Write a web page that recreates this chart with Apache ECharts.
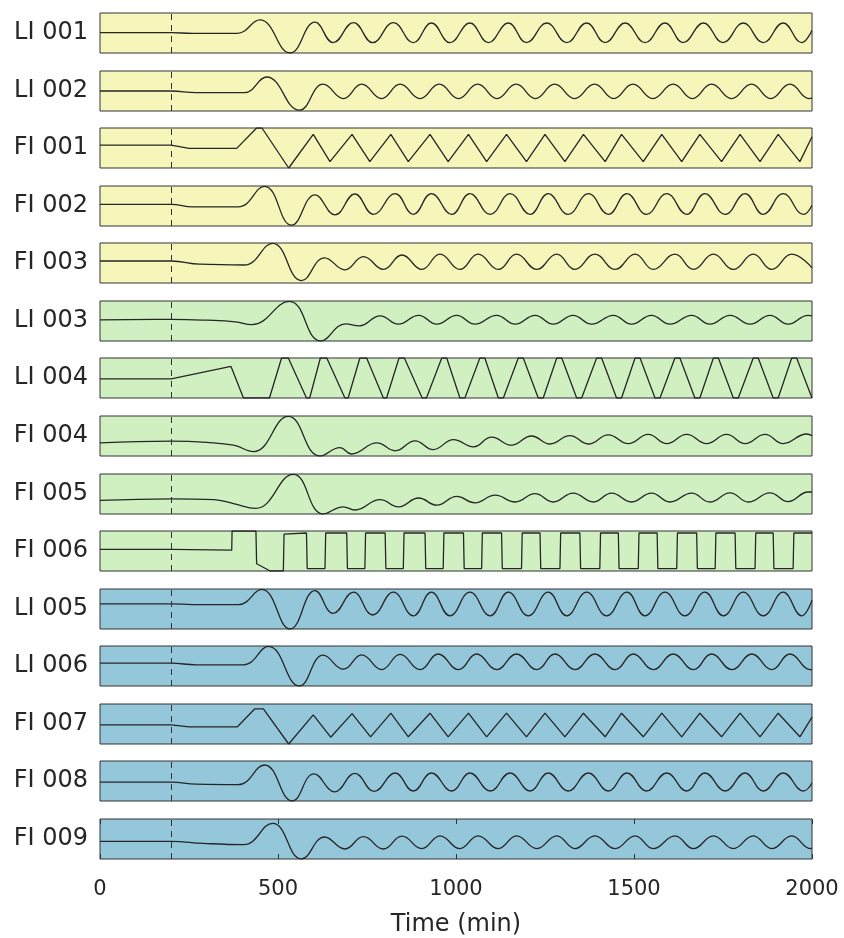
<!DOCTYPE html>
<html>
<head>
<meta charset="utf-8">
<script src="https://cdn.jsdelivr.net/npm/echarts@6/dist/echarts.min.js"></script>
<style>
html,body{margin:0;padding:0;background:#fff;}
#chart{width:844px;height:938px;}
</style>
</head>
<body>
<div id="chart"></div>
<script>
// ---- data ----
const labels = ['LI 001','LI 002','FI 001','FI 002','FI 003','LI 003','LI 004','FI 004','FI 005','FI 006','LI 005','LI 006','FI 007','FI 008','FI 009'];
const xTicks = [0, 500, 1000, 1500, 2000];
const eventTime = 200;

const li001 = [[0,0.51],[200,0.51],[260,0.49],[385,0.49],[449,0.83],[534,0.0],[604,0.77],[655,0.26],[712,0.76],[766,0.26],[824,0.76],[880,0.26],[931,0.75],[983,0.26],[1039,0.75],[1091,0.26],[1147,0.75],[1198,0.26],[1255,0.75],[1311,0.26],[1367,0.75],[1419,0.26],[1475,0.75],[1531,0.26],[1587,0.75],[1638,0.26],[1695,0.75],[1750,0.26],[1807,0.75],[1863,0.26],[1919,0.75],[1971,0.26],[2000,0.57]];
const li002 = [[0,0.5],[200,0.5],[270,0.46],[405,0.46],[468,0.85],[560,0.02],[627,0.67],[684,0.31],[735,0.67],[791,0.31],[843,0.67],[899,0.31],[953,0.67],[1007,0.31],[1061,0.67],[1115,0.31],[1169,0.67],[1223,0.31],[1277,0.67],[1333,0.31],[1389,0.67],[1443,0.31],[1497,0.67],[1553,0.31],[1610,0.67],[1664,0.31],[1718,0.67],[1774,0.31],[1830,0.67],[1884,0.31],[1938,0.67],[1992,0.31],[2000,0.32]];
const fi001 = [[0,0.57],[200,0.57],[250,0.49],[384,0.49],[440,1.0],[455,1.0],[530,0.0],[599,0.84],[646,0.16],[708,0.84],[758,0.16],[817,0.84],[866,0.16],[927,0.84],[978,0.16],[1035,0.84],[1086,0.16],[1142,0.84],[1198,0.16],[1250,0.84],[1306,0.16],[1358,0.84],[1419,0.16],[1465,0.84],[1526,0.16],[1578,0.84],[1634,0.16],[1685,0.84],[1746,0.16],[1798,0.84],[1854,0.16],[1905,0.84],[1966,0.16],[2000,0.78]];
const fi002 = [[0,0.54],[200,0.54],[260,0.48],[388,0.48],[462,0.99],[538,0.02],[604,0.78],[660,0.28],[716,0.8],[768,0.29],[829,0.81],[880,0.29],[931,0.81],[988,0.29],[1039,0.81],[1096,0.29],[1152,0.81],[1208,0.29],[1259,0.81],[1315,0.29],[1372,0.81],[1428,0.29],[1480,0.81],[1535,0.29],[1592,0.81],[1648,0.29],[1699,0.81],[1756,0.29],[1812,0.81],[1863,0.29],[1919,0.81],[1976,0.29],[2000,0.52]];
const fi003 = [[0,0.55],[200,0.55],[280,0.47],[405,0.45],[485,0.99],[566,0.06],[631,0.63],[688,0.33],[740,0.66],[796,0.34],[848,0.7],[904,0.34],[955,0.72],[1011,0.34],[1062,0.72],[1119,0.34],[1170,0.72],[1227,0.34],[1283,0.72],[1334,0.34],[1390,0.72],[1447,0.34],[1503,0.72],[1554,0.34],[1615,0.72],[1667,0.34],[1723,0.72],[1779,0.34],[1835,0.72],[1887,0.34],[1943,0.72],[2000,0.38]];
const li003 = [[0,0.53],[200,0.54],[300,0.52],[380,0.48],[426,0.41],[532,0.99],[620,0.0],[690,0.43],[728,0.38],[787,0.63],[838,0.42],[895,0.64],[946,0.42],[1002,0.64],[1053,0.42],[1114,0.64],[1166,0.42],[1222,0.64],[1273,0.42],[1329,0.64],[1381,0.42],[1442,0.64],[1493,0.42],[1549,0.64],[1601,0.42],[1662,0.64],[1713,0.42],[1770,0.64],[1826,0.42],[1882,0.64],[1933,0.42],[1989,0.64],[2000,0.63]];
const li004 = [[0,0.48],[200,0.48],[368,0.79],[403,0],[476,0],[510,1],[529,1],[580,0],[589,0],[619,1],[637,1],[688,0],[697,0],[730,1],[749,1],[796,0],[805,0],[840,1],[855,1],[905,0],[917,0],[960,1],[974,1],[1011,0],[1025,0],[1067,1],[1081,1],[1119,0],[1133,0],[1175,1],[1189,1],[1231,0],[1245,0],[1283,1],[1297,1],[1339,0],[1353,0],[1395,1],[1409,1],[1451,0],[1465,0],[1503,1],[1517,1],[1559,0],[1573,0],[1615,1],[1629,1],[1671,0],[1685,0],[1723,1],[1737,1],[1779,0],[1793,0],[1835,1],[1849,1],[1891,0],[1905,0],[1943,1],[1957,1],[2000,0]];
const fi004 = [[0,0.33],[200,0.37],[300,0.34],[375,0.27],[431,0.11],[529,0.99],[618,0.0],[674,0.21],[706,0.05],[778,0.33],[829,0.13],[885,0.38],[936,0.16],[993,0.41],[1049,0.23],[1100,0.47],[1156,0.27],[1212,0.5],[1264,0.3],[1320,0.51],[1372,0.3],[1428,0.53],[1484,0.31],[1540,0.54],[1592,0.31],[1648,0.54],[1704,0.31],[1760,0.54],[1812,0.31],[1868,0.54],[1919,0.31],[1985,0.55],[2000,0.51]];
const fi005 = [[0,0.34],[200,0.38],[320,0.36],[375,0.26],[437,0.14],[543,0.99],[627,0.0],[683,0.18],[716,0.1],[787,0.36],[838,0.18],[895,0.4],[946,0.22],[1002,0.44],[1053,0.28],[1110,0.47],[1166,0.3],[1222,0.51],[1273,0.3],[1329,0.52],[1386,0.3],[1437,0.52],[1493,0.3],[1549,0.52],[1601,0.3],[1662,0.52],[1713,0.3],[1770,0.53],[1821,0.3],[1882,0.53],[1933,0.31],[1989,0.55],[2000,0.55]];
const fi006 = [[0,0.54],[200,0.54],[201,0.52],[370,0.52],[371,1.0],[438,1.0],[440,0.18],[478,0.0],[515,0.0],[517,0.92],[522,0.95],[580,0.95],[582,0.06],[632,0.06],[634,0.95],[693,0.95],[695,0.06],[744,0.06],[746,0.95],[801,0.95],[803,0.06],[852,0.06],[854,0.95],[913,0.95],[915,0.06],[964,0.06],[966,0.95],[1021,0.95],[1023,0.06],[1072,0.06],[1074,0.95],[1128,0.95],[1130,0.06],[1184,0.06],[1186,0.95],[1236,0.95],[1238,0.06],[1292,0.06],[1294,0.95],[1348,0.95],[1350,0.06],[1404,0.06],[1406,0.95],[1456,0.95],[1458,0.06],[1512,0.06],[1514,0.95],[1565,0.95],[1567,0.06],[1620,0.06],[1622,0.95],[1676,0.95],[1678,0.06],[1728,0.06],[1730,0.95],[1784,0.95],[1786,0.06],[1840,0.06],[1842,0.95],[1891,0.95],[1893,0.06],[1947,0.06],[1949,0.95],[2000,0.95]];
const li005 = [[0,0.63],[200,0.63],[260,0.61],[389,0.61],[454,0.99],[534,0.0],[604,0.96],[655,0.39],[712,0.92],[766,0.35],[824,0.92],[880,0.33],[931,0.92],[983,0.33],[1039,0.92],[1096,0.33],[1147,0.92],[1203,0.33],[1259,0.92],[1311,0.33],[1367,0.92],[1423,0.33],[1480,0.92],[1531,0.33],[1587,0.92],[1643,0.33],[1699,0.92],[1751,0.33],[1807,0.92],[1863,0.33],[1919,0.92],[1971,0.33],[2000,0.72]];
const li006 = [[0,0.57],[200,0.57],[270,0.53],[403,0.53],[473,0.99],[560,0.0],[627,0.77],[684,0.42],[735,0.78],[791,0.41],[843,0.79],[899,0.41],[950,0.8],[1007,0.41],[1058,0.8],[1114,0.41],[1170,0.8],[1227,0.41],[1278,0.8],[1334,0.41],[1390,0.8],[1447,0.41],[1498,0.8],[1554,0.41],[1610,0.8],[1667,0.41],[1718,0.8],[1775,0.41],[1831,0.8],[1887,0.41],[1938,0.8],[1995,0.41],[2000,0.41]];
const fi007 = [[0,0.48],[200,0.48],[250,0.43],[386,0.43],[435,0.88],[459,0.88],[530,0.0],[599,0.73],[648,0.17],[708,0.76],[760,0.18],[817,0.77],[866,0.18],[927,0.77],[978,0.18],[1035,0.77],[1086,0.18],[1142,0.77],[1198,0.18],[1250,0.77],[1306,0.18],[1358,0.77],[1419,0.18],[1465,0.77],[1526,0.18],[1578,0.77],[1634,0.18],[1685,0.77],[1746,0.18],[1798,0.77],[1854,0.18],[1905,0.77],[1966,0.18],[2000,0.67]];
const fi008 = [[0,0.47],[200,0.47],[270,0.42],[388,0.41],[462,0.9],[540,0.0],[601,0.68],[659,0.23],[716,0.69],[770,0.24],[829,0.7],[880,0.25],[931,0.7],[988,0.25],[1039,0.7],[1096,0.25],[1152,0.7],[1208,0.25],[1259,0.7],[1315,0.25],[1372,0.7],[1428,0.25],[1480,0.7],[1535,0.25],[1592,0.7],[1648,0.25],[1699,0.7],[1756,0.25],[1812,0.7],[1863,0.25],[1919,0.7],[1976,0.25],[2000,0.45]];
const fi009 = [[0,0.44],[200,0.44],[290,0.39],[403,0.36],[485,0.89],[566,0.0],[631,0.55],[688,0.25],[740,0.56],[796,0.25],[848,0.57],[904,0.26],[955,0.58],[1011,0.26],[1062,0.58],[1119,0.26],[1170,0.58],[1227,0.26],[1283,0.58],[1334,0.26],[1390,0.58],[1447,0.26],[1503,0.58],[1554,0.26],[1615,0.58],[1667,0.26],[1723,0.58],[1779,0.26],[1835,0.58],[1887,0.26],[1943,0.58],[1995,0.26],[2000,0.27]];

const allSeries = [li001, li002, fi001, fi002, fi003, li003, li004, fi004, fi005, fi006, li005, li006, fi007, fi008, fi009];

// ---- style ----
const groupColor = ['#f6f6ba','#f6f6ba','#f6f6ba','#f6f6ba','#f6f6ba',
                    '#d0f0c2','#d0f0c2','#d0f0c2','#d0f0c2','#d0f0c2',
                    '#94c7da','#94c7da','#94c7da','#94c7da','#94c7da'];
const smoothed = [true,true,false,true,true,true,false,true,true,false,true,true,false,true,true];
const FONT = '"DejaVu Sans", "Liberation Sans", Arial, sans-serif';
const TXT = '#262626';

const n = labels.length;
const grids = [], xAxes = [], yAxes = [], series = [];
for (let i = 0; i < n; i++) {
  const top = Math.round(13 + i * 57.57);
  const last = (i === n - 1);
  grids.push({left: 100, width: 712, top: top, height: 40, show: true,
    backgroundColor: groupColor[i], borderColor: '#333', borderWidth: 1});
  xAxes.push({type: 'value', gridIndex: i, min: 0, max: 2000, interval: 500,
    axisLine: {show: false}, splitLine: {show: false},
    axisTick: {show: last, inside: true, length: 5, lineStyle: {color: '#333'}},
    axisLabel: {show: last, fontSize: 21, color: TXT, fontFamily: FONT, margin: 20,
      formatter: v => (xTicks.indexOf(v) >= 0 ? String(v) : '')},
    name: last ? 'Time (min)' : '', nameLocation: 'middle', nameGap: 54,
    nameTextStyle: {fontSize: 24, color: TXT, fontFamily: FONT}});
  yAxes.push({type: 'value', gridIndex: i, min: 0, max: 1,
    axisLine: {show: false}, axisTick: {show: false}, axisLabel: {show: false}, splitLine: {show: false},
    name: labels[i], nameLocation: 'middle', nameRotate: 0, nameGap: 12,
    nameTextStyle: {fontSize: 24, color: TXT, fontFamily: FONT, align: 'right', verticalAlign: 'middle'}});
  series.push({type: 'line', xAxisIndex: i, yAxisIndex: i, data: allSeries[i],
    showSymbol: false, smooth: smoothed[i] ? 0.45 : false, clip: true,
    lineStyle: {color: '#262626', width: 1.3},
    markLine: {silent: true, symbol: ['none','none'], label: {show: false},
      lineStyle: {color: '#333', type: [6, 5], width: 1},
      data: [{xAxis: eventTime}]}});
}
// top-edge ticks for the bottom panel
xAxes.push({type: 'value', gridIndex: n - 1, position: 'top', min: 0, max: 2000, interval: 500,
  axisLine: {show: false}, splitLine: {show: false}, axisLabel: {show: false},
  axisTick: {show: true, inside: true, length: 5, lineStyle: {color: '#333'}}});

const chart = echarts.init(document.getElementById('chart'), null, {renderer: 'canvas'});
chart.setOption({animation: false, grid: grids, xAxis: xAxes, yAxis: yAxes, series: series});
</script>
</body>
</html>
